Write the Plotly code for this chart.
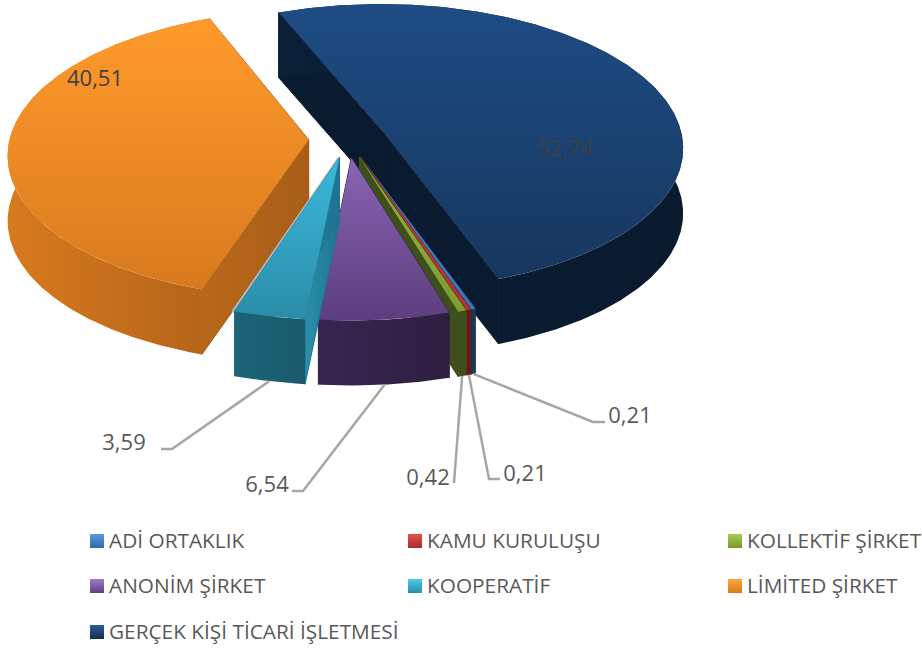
import numpy as np
import plotly.graph_objects as go

# ---- data ----
names = ["ADİ ORTAKLIK", "KAMU KURULUŞU", "KOLLEKTİF ŞİRKET", "ANONİM ŞİRKET",
         "KOOPERATİF", "LİMİTED ŞİRKET", "GERÇEK KİŞİ TİCARİ İŞLETMESİ"]
values = [0.21, 0.21, 0.42, 6.54, 3.59, 40.51, 52.74]

# ---- styles (top gradient light/dark, wall gradient, cut-face colour) ----
top_colors = [("#4A8AD0", "#3A74B8"), ("#C8403C", "#B03430"), ("#92B43E", "#7E9C32"),
              ("#8A64B4", "#5C3E7E"), ("#3CB8DC", "#2A8CA8"), ("#FF9A2C", "#D87A1E"),
              ("#1E4C84", "#17375E")]
wall_colors = [("#17375E", "#17375E"), ("#6A1614", "#6A1614"), ("#3E4E1C", "#3E4E1C"),
               ("#372650", "#2E1E40"), ("#1C6478", "#1A5A6C"), ("#D87A1E", "#B4641A"),
               ("#0B1F36", "#0A1A2E")]
cut_colors = [("#17375E", "#17375E"), ("#6A1614", "#6A1614"), ("#3E4E1C", "#3E4E1C"),
              ("#372650", "#2E1E40"), ("#2A90AC", "#1E7490"), ("#B8681A", "#A85E18"),
              ("#0A1B30", "#0A1B30")]
legend_colors = [("#5A9AE0", "#2E6AAE"), ("#E0524E", "#A82C28"), ("#A8CC50", "#76962E"),
                 ("#A07CCC", "#5E3E86"), ("#4CCCEC", "#2A8CA8"), ("#FFA63C", "#D87A1E"),
                 ("#2E5E98", "#132E50")]

# ---- projection ----
CX, CY = 347.5, 139.0
RX, RY = 299.0, 142.5
PERSP = 0.10
PULL = 0.13
DEPTH = 65.0
START = 160.2
TEXT = "#595959"


def project(x, y, drop=0.0):
    w = 1 - PERSP * y
    return CX + RX * x / w, CY + RY * y / w + drop


def rim(a0, a1, off):
    a = np.radians(np.linspace(a0, a1, max(3, int(abs(a1 - a0) * 2))))
    return np.sin(a) + off[0], -np.cos(a) + off[1]


spans = np.array(values) / sum(values) * 360
edges = START + np.concatenate([[0], np.cumsum(spans)])
fig = go.Figure()


def poly(xs, ys, colors, kind, seam=0.0):
    # the y axis is reversed, so a vertical colorscale runs bottom -> top of the picture
    scale = [[0, colors[1]], [1, colors[0]]] if kind == "vertical" else [[0, colors[0]], [1, colors[1]]]
    fig.add_trace(go.Scatter(
        x=list(xs) + [xs[0]], y=list(ys) + [ys[0]], mode="lines", fill="toself",
        line=dict(width=seam, color=colors[1]),
        fillgradient=dict(type=kind, colorscale=scale),
        hoverinfo="skip", showlegend=False))


geo = []
for i in range(len(values)):
    mid = np.radians((edges[i] + edges[i + 1]) / 2)
    off = (PULL * np.sin(mid), -PULL * np.cos(mid))
    geo.append((edges[i], edges[i + 1], off))

for i in [6, 5, 0, 1, 2, 3, 4]:
    a0, a1, off = geo[i]
    ux, uy = rim(a0, a1, off)
    tx, ty = project(ux, uy)
    bx, by = project(ux, uy, DEPTH)
    ax, ay = project(off[0], off[1])
    # soft contact shadow along the left straight edge of the cooperative slice
    if i == 4:
        fig.add_trace(go.Scatter(x=[ax - 1, tx[-1] - 2], y=[ay + 1, ty[-1] + 1], mode="lines",
                                 line=dict(color="#BDBDBD", width=2.5), hoverinfo="skip",
                                 showlegend=False))
    # the two cut faces first, then the outer wall, then the top
    poly([ax, tx[0], bx[0], ax], [ay, ty[0], by[0], ay + DEPTH], cut_colors[i], "horizontal", 1)
    poly([ax, tx[-1], bx[-1], ax], [ay, ty[-1], by[-1], ay + DEPTH], cut_colors[i], "horizontal", 1)
    poly(np.r_[tx, bx[::-1]], np.r_[ty, by[::-1]], wall_colors[i], "horizontal")
    poly(np.r_[ax, tx], np.r_[ay, ty], top_colors[i], "vertical")

# ---- data labels ----
label_text = [f"{v:.2f}".replace(".", ",") for v in values]
label_pos = [(630, 417), (525, 475), (428, 479), (267, 486), (124, 444), (95, 80), (565, 150)]
label_color = [TEXT, TEXT, TEXT, TEXT, TEXT, "#404040", "#404040"]
# elbow + end of the leader (label side), None for labels placed on the slice
leader_ends = [[(593, 422), (605, 422)], [(489, 479), (500, 479)], [(454, 483)],
               [(303, 491), (292, 491)], [(172, 449), (161, 449)], None, None]
for i in range(len(values)):
    if leader_ends[i] is None:
        continue
    a0, a1, off = geo[i]
    m = np.radians((a0 + a1) / 2)
    sx, sy = project(np.sin(m) + off[0], -np.cos(m) + off[1], DEPTH)
    pts = [(sx, sy)] + leader_ends[i]
    fig.add_trace(go.Scatter(x=[p[0] for p in pts], y=[p[1] for p in pts], mode="lines",
                             line=dict(color="#A6A6A6", width=2.5), hoverinfo="skip",
                             showlegend=False))
fig.add_trace(go.Scatter(
    x=[p[0] for p in label_pos], y=[p[1] for p in label_pos], mode="text", text=label_text,
    textposition="middle center", hoverinfo="skip", showlegend=False,
    textfont=dict(family="Open Sans", size=22, color=label_color)))

# ---- legend (three columns, built by hand) ----
col_x = [97, 415, 735]
row_y = [541, 586, 632]
leg_x = [col_x[i % 3] for i in range(len(names))]
leg_y = [row_y[i // 3] for i in range(len(names))]
fig.add_trace(go.Scatter(
    x=leg_x, y=leg_y, mode="markers", hoverinfo="skip", showlegend=False,
    marker=dict(symbol="square", size=14, color=[c[0] for c in legend_colors],
                gradient=dict(type="vertical", color=[c[1] for c in legend_colors]),
                line=dict(width=0))))
fig.add_trace(go.Scatter(
    x=[x + 12 for x in leg_x], y=[y + 2 for y in leg_y], mode="text", text=names,
    textposition="middle right", hoverinfo="skip", showlegend=False,
    textfont=dict(family="Open Sans", size=20.8, color=TEXT)))

fig.update_layout(
    width=922, height=649, margin=dict(l=0, r=0, t=0, b=0),
    paper_bgcolor="white", plot_bgcolor="white", showlegend=False,
    xaxis=dict(range=[0, 922], visible=False, fixedrange=True),
    yaxis=dict(range=[649, 0], visible=False, fixedrange=True),
)
fig.write_html("out.html", config=dict(displayModeBar=False),
               post_script="document.body.style.margin='0';document.body.style.overflow='hidden';")
